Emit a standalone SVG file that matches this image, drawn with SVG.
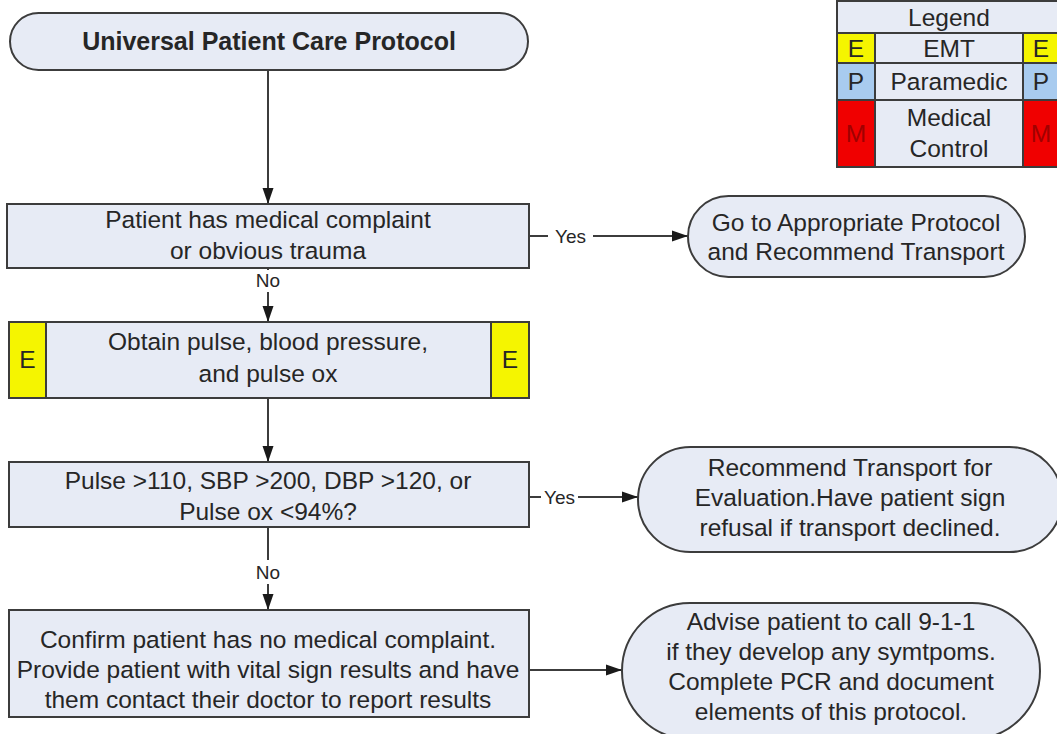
<svg xmlns="http://www.w3.org/2000/svg" width="1057" height="734" viewBox="0 0 1057 734">
<defs>
<style>
.bg{fill:#ffffff}
.box{fill:#e7ebf5;stroke:#3c3c3c;stroke-width:2}
.t{font-family:"Liberation Sans",Arial,sans-serif;font-size:24.5px;fill:#262626;text-anchor:middle}
.tb{font-family:"Liberation Sans",Arial,sans-serif;font-size:25px;font-weight:bold;fill:#262626;text-anchor:middle}
.lbl{font-family:"Liberation Sans",Arial,sans-serif;font-size:19px;fill:#262626;text-anchor:middle}
.conn{stroke:#3c3c3c;stroke-width:2;fill:none;marker-end:url(#arr)}
.gap{fill:#ffffff}
.ye{fill:#f5f500;stroke:#3c3c3c;stroke-width:2}
.bl{fill:#a8cbef;stroke:#3c3c3c;stroke-width:2}
.rd{fill:#f00000;stroke:#3c3c3c;stroke-width:2}
.mt{fill:#a00000}
</style>
<marker id="arr" markerWidth="16" markerHeight="12" refX="16" refY="6" orient="auto" markerUnits="userSpaceOnUse">
<path d="M0,0.5 L16,6 L0,11.5 Z" fill="#1a1a1a"/>
</marker>
</defs>
<rect class="bg" x="0" y="0" width="1057" height="734"/>

<g id="connectors">
<line class="conn" x1="268" y1="70" x2="268" y2="204"/>
<line class="conn" x1="529" y1="236" x2="688" y2="236"/>
<rect class="gap" x="548" y="226" width="45" height="20"/>
<text class="lbl" x="570.5" y="243">Yes</text>
<line class="conn" x1="268" y1="268" x2="268" y2="322"/>
<rect class="gap" x="252" y="270" width="32" height="22"/>
<text class="lbl" x="268" y="287">No</text>
<line class="conn" x1="268" y1="398" x2="268" y2="462"/>
<line class="conn" x1="529" y1="497" x2="638" y2="497"/>
<rect class="gap" x="541" y="487" width="37" height="20"/>
<text class="lbl" x="559.5" y="504">Yes</text>
<line class="conn" x1="268" y1="527" x2="268" y2="610"/>
<rect class="gap" x="252" y="560" width="32" height="24"/>
<text class="lbl" x="268" y="579">No</text>
<line class="conn" x1="529" y1="670" x2="622" y2="670"/>
</g>

<g id="start">
<rect class="box" x="10" y="13" width="518" height="57" rx="28.5" ry="28.5"/>
<text class="tb" x="269" y="50">Universal Patient Care Protocol</text>
</g>

<g id="complaint">
<rect class="box" x="7" y="204" width="522" height="64"/>
<text class="t" x="268" y="228">Patient has medical complaint</text>
<text class="t" x="268" y="259">or obvious trauma</text>
</g>

<g id="goto">
<rect class="box" x="688" y="196" width="337" height="81" rx="40.5" ry="40.5"/>
<text class="t" x="856" y="231">Go to Appropriate Protocol</text>
<text class="t" x="856" y="260">and Recommend Transport</text>
</g>

<g id="vitals">
<rect class="box" x="9" y="322" width="520" height="76"/>
<rect class="ye" x="9" y="322" width="37" height="76"/>
<rect class="ye" x="491" y="322" width="38" height="76"/>
<text class="t" x="27.5" y="368">E</text>
<text class="t" x="510" y="368">E</text>
<text class="t" x="268" y="350">Obtain pulse, blood pressure,</text>
<text class="t" x="268" y="382">and pulse ox</text>
</g>

<g id="criteria">
<rect class="box" x="9" y="462" width="520" height="65"/>
<text class="t" x="268" y="489">Pulse &gt;110, SBP &gt;200, DBP &gt;120, or</text>
<text class="t" x="268" y="520">Pulse ox &lt;94%?</text>
</g>

<g id="recommend">
<rect class="box" x="638" y="447" width="424" height="105" rx="52.5" ry="52.5"/>
<text class="t" x="850" y="476">Recommend Transport for</text>
<text class="t" x="850" y="506">Evaluation.Have patient sign</text>
<text class="t" x="850" y="536">refusal if transport declined.</text>
</g>

<g id="confirm">
<rect class="box" x="9" y="610" width="520" height="107"/>
<text class="t" x="268" y="648">Confirm patient has no medical complaint.</text>
<text class="t" x="268" y="678">Provide patient with vital sign results and have</text>
<text class="t" x="268" y="708">them contact their doctor to report results</text>
</g>

<g id="advise">
<rect class="box" x="622" y="603" width="418" height="136" rx="68" ry="68"/>
<text class="t" x="831" y="630">Advise patient to call 9-1-1</text>
<text class="t" x="831" y="660">if they develop any symtpoms.</text>
<text class="t" x="831" y="690">Complete PCR and document</text>
<text class="t" x="831" y="720">elements of this protocol.</text>
</g>

<g id="legend">
<rect class="box" x="837" y="1" width="224" height="166"/>
<line x1="837" y1="33" x2="1061" y2="33" stroke="#3c3c3c" stroke-width="2"/>
<line x1="875" y1="63" x2="1023" y2="63" stroke="#3c3c3c" stroke-width="2"/>
<line x1="875" y1="100" x2="1023" y2="100" stroke="#3c3c3c" stroke-width="2"/>
<rect class="ye" x="837" y="33" width="38" height="30"/>
<rect class="ye" x="1023" y="33" width="38" height="30"/>
<rect class="bl" x="837" y="63" width="38" height="37"/>
<rect class="bl" x="1023" y="63" width="38" height="37"/>
<rect class="rd" x="837" y="100" width="38" height="67"/>
<rect class="rd" x="1023" y="100" width="38" height="67"/>
<text class="t" x="949" y="26">Legend</text>
<text class="t" x="856" y="57">E</text>
<text class="t" x="949" y="57">EMT</text>
<text class="t" x="1041" y="57">E</text>
<text class="t" x="856" y="90" fill="#1c2c4c">P</text>
<text class="t" x="949" y="90">Paramedic</text>
<text class="t" x="1041" y="90" fill="#1c2c4c">P</text>
<text class="t mt" x="856" y="142">M</text>
<text class="t" x="949" y="126">Medical</text>
<text class="t" x="949" y="157">Control</text>
<text class="t mt" x="1041" y="142">M</text>
</g>
</svg>
